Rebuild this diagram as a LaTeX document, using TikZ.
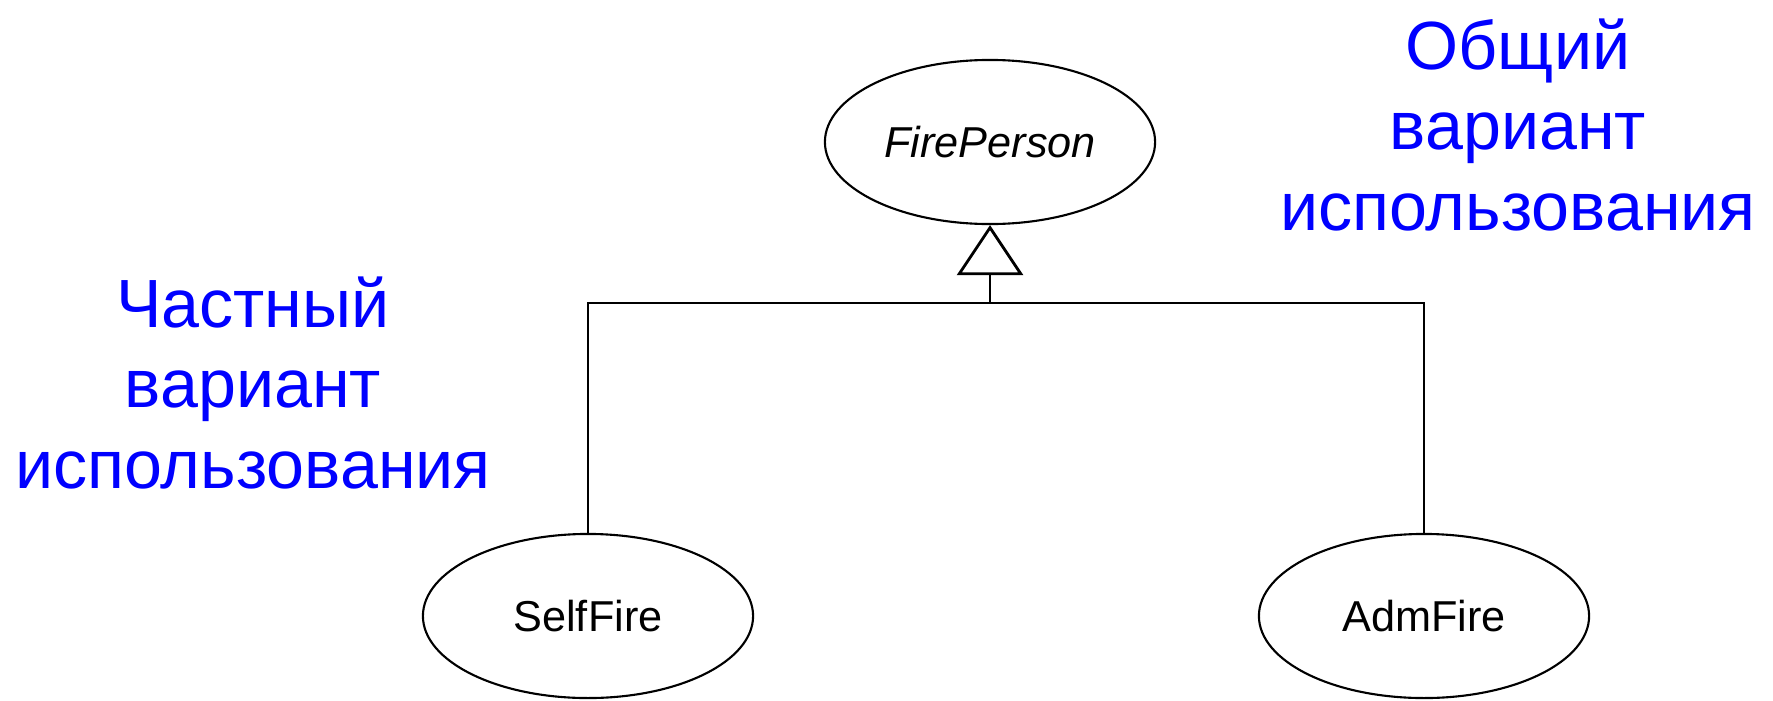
\documentclass[tikz,border=0pt]{standalone}
\usepackage{fontspec}
\setmainfont{Liberation Sans}
\usepackage{xcolor}
\usepackage{tikz}
\usetikzlibrary{shapes.geometric}
\usetikzlibrary{arrows.meta}

\begin{document}
\begin{tikzpicture}[x=0.01cm,y=-0.01cm,
	cas/.style={draw,ellipse,line width=0.6pt,minimum width=3.3cm,minimum height=1.64cm,inner sep=0pt,font=\fontsize{12.3}{14}\selectfont},
	note/.style={blue,align=center,font=\fontsize{19.4}{22.8}\selectfont}]
\useasboundingbox (0,0) rectangle (1773,700);
	%cas d'utilisation
	\node[cas] (FP) at (990,142) {\itshape FirePerson};
	\node[cas] (SF) at (588,616) {SelfFire};
	\node[cas] (AF) at (1424,616) {AdmFire};
	%generalisation
	\coordinate (J) at (990,303);
	\draw[line width=0.6pt] (SF.north) |- (J) -| (AF.north);
	\draw[line width=0.6pt,-{Triangle[open,length=0.5cm,width=0.66cm,line width=0.8pt]}] (J) -- (FP.south);
	%commentaires
	\node[note] (G) at (1518,125) {Общий\\вариант\\использования};
	\node[note] (P) at (253,383) {Частный\\вариант\\использования};
\end{tikzpicture}
\end{document}
